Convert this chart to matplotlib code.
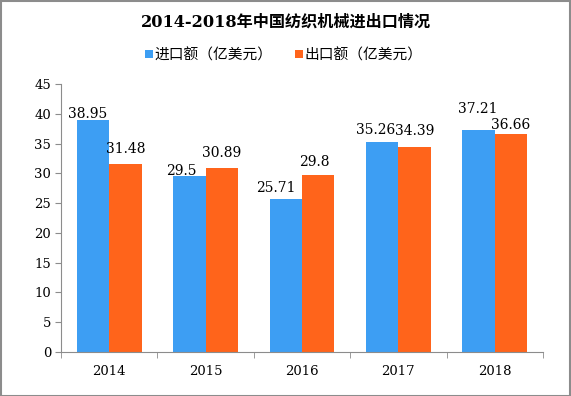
import numpy as np
import matplotlib.pyplot as plt
from matplotlib.patches import Rectangle

years = ['2014', '2015', '2016', '2017', '2018']
imports = [38.95, 29.5, 25.71, 35.26, 37.21]
exports = [31.48, 30.89, 29.8, 34.39, 36.66]
labels = ['进口额（亿美元）', '出口额（亿美元）']

# label nudges in pixels (dx, gap above bar), as placed in the original
imp_off = [(-5, 2), (-8, 1), (-10, 7), (-7, 8), (-1, 17)]
exp_off = [(0, 11), (0, 11), (-4, 9), (0, 12), (0, 5)]

blue = '#3D9EF3'
orange = '#FF641B'
grey = '#8C8C8C'

plt.rcParams['font.family'] = ['DejaVu Serif', 'Noto Sans CJK SC']

fig = plt.figure(figsize=(5.71, 3.96), dpi=100)
ax = fig.add_axes([0.1068, 0.111, 0.8442, 0.677])

x = np.arange(len(years))
w = 0.337
b1 = ax.bar(x - w / 2, imports, w, color=blue, label=labels[0])
b2 = ax.bar(x + w / 2, exports, w, color=orange, label=labels[1])

for bars, vals, offs in ((b1, imports, imp_off), (b2, exports, exp_off)):
    for r, v, (dx, dy) in zip(bars, vals, offs):
        ax.annotate(f'{v:g}', (r.get_x() + r.get_width() / 2, v),
                    xytext=(dx, dy), textcoords='offset pixels',
                    ha='center', va='baseline', fontsize=10)

ax.set_xlim(-0.5, len(years) - 0.5)
ax.set_ylim(0, 45)
ax.set_yticks(np.arange(0, 46, 5))
ax.set_xticks(x)
ax.set_xticklabels(years)
ax.set_xticks(np.arange(-0.5, len(years)), minor=True)
ax.tick_params(axis='x', which='major', length=0, pad=9, labelsize=9.5)
ax.tick_params(axis='x', which='minor', length=4, color=grey, direction='out')
ax.tick_params(axis='y', length=4, color=grey, labelsize=9.5, pad=3)
for s in ('top', 'right'):
    ax.spines[s].set_visible(False)
for s in ('left', 'bottom'):
    ax.spines[s].set_color(grey)

fig.text(0.5, 0.944, '2014-2018年中国纺织机械进出口情况', ha='center', va='center',
         fontsize=11.6, fontweight='bold')

leg = fig.legend(handles=[b1, b2], labels=labels, loc='center', bbox_to_anchor=(0.497, 0.861),
                 ncol=2, frameon=False, handlelength=0.55, handleheight=0.55,
                 handletextpad=0.1, columnspacing=1.55,
                 prop={'family': ['Noto Sans CJK SC'], 'size': 10.6})

fig.add_artist(Rectangle((0.001, 0.001), 0.997, 0.997, transform=fig.transFigure,
                         fill=False, edgecolor=grey, lw=1.5))

fig.savefig('out.png', dpi=100)
